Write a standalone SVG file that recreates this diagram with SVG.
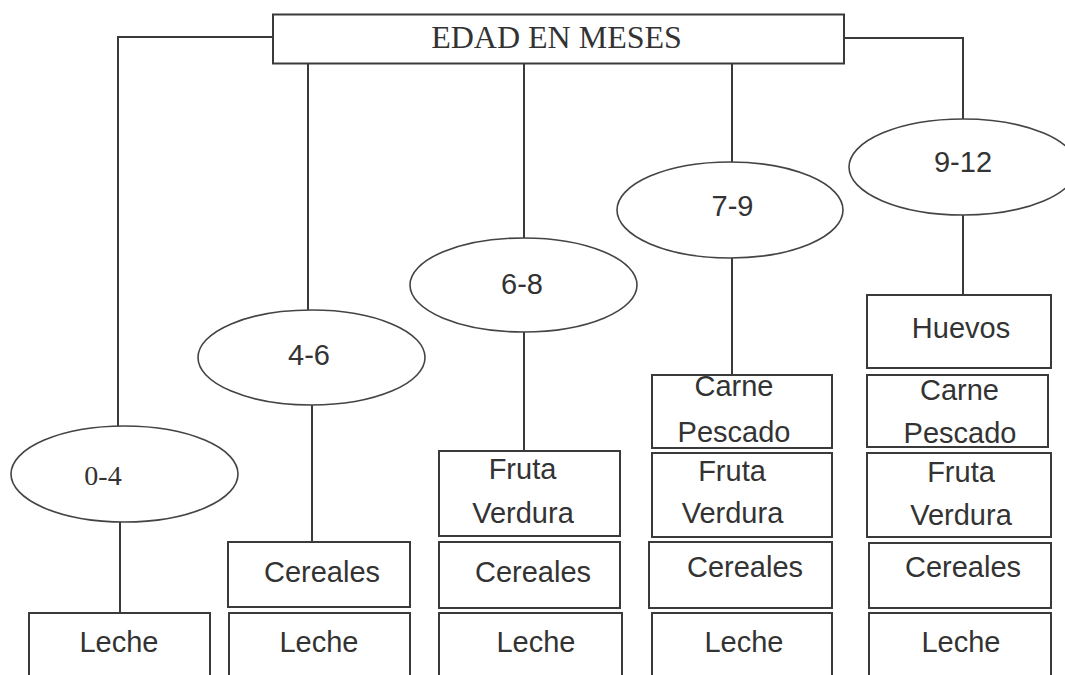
<svg xmlns="http://www.w3.org/2000/svg" width="1065" height="675" viewBox="0 0 1065 675">
<style>
.box{fill:#fff;stroke:#3a3a3a;stroke-width:2}
.ell{fill:#fff;stroke:#444;stroke-width:1.6}
.ln{fill:none;stroke:#3a3a3a;stroke-width:2}
.s{font-family:"Liberation Sans",Arial,sans-serif;font-size:29px;fill:#333;text-anchor:middle}
.r{font-family:"Liberation Serif","Times New Roman",serif;fill:#333;text-anchor:middle}
</style>
<rect width="1065" height="675" fill="#fff"/>
<g id="connectors">
<polyline class="ln" points="273,37 118,37 118,426"/>
<line class="ln" x1="308" y1="61" x2="308" y2="310"/>
<line class="ln" x1="524" y1="63" x2="524" y2="238"/>
<line class="ln" x1="732" y1="63" x2="732" y2="162"/>
<polyline class="ln" points="844,38 963,38 963,119"/>
<line class="ln" x1="120" y1="522" x2="120" y2="613"/>
<line class="ln" x1="312" y1="405" x2="312" y2="542"/>
<line class="ln" x1="524" y1="332" x2="524" y2="451"/>
<line class="ln" x1="732" y1="258" x2="732" y2="375"/>
<line class="ln" x1="963" y1="215" x2="963" y2="295"/>
</g>
<g id="root">
<rect class="box" x="273" y="14.5" width="571" height="49"/>
<text class="r" x="556.5" y="48" font-size="32">EDAD EN MESES</text>
</g>
<g id="age-0-4">
<ellipse class="ell" cx="124.5" cy="474" rx="113.5" ry="48"/>
<text class="r" x="103" y="485" font-size="28">0-4</text>
</g>
<g id="age-4-6">
<ellipse class="ell" cx="311.5" cy="357.5" rx="113.5" ry="47.5"/>
<text class="s" x="309" y="365">4-6</text>
</g>
<g id="age-6-8">
<ellipse class="ell" cx="523.5" cy="285" rx="113.5" ry="47"/>
<text class="s" x="522" y="294">6-8</text>
</g>
<g id="age-7-9">
<ellipse class="ell" cx="730" cy="210" rx="113" ry="48"/>
<text class="s" x="732.5" y="216">7-9</text>
</g>
<g id="age-9-12">
<ellipse class="ell" cx="963" cy="167" rx="114" ry="48"/>
<text class="s" x="963" y="172">9-12</text>
</g>
<g id="c1-leche">
<rect class="box" x="29" y="613" width="181" height="75"/>
<text class="s" x="119" y="652">Leche</text>
</g>
<g id="c2-cereales">
<rect class="box" x="228" y="542" width="182" height="65"/>
<text class="s" x="322" y="582">Cereales</text>
</g>
<g id="c2-leche">
<rect class="box" x="229" y="613" width="181" height="75"/>
<text class="s" x="319" y="652">Leche</text>
</g>
<g id="c3-fruta">
<rect class="box" x="439" y="451" width="181" height="85"/>
<text class="s" x="522.5" y="479">Fruta</text>
<text class="s" x="523" y="523">Verdura</text>
</g>
<g id="c3-cereales">
<rect class="box" x="439" y="542" width="181" height="66"/>
<text class="s" x="533" y="582">Cereales</text>
</g>
<g id="c3-leche">
<rect class="box" x="439" y="613" width="183" height="75"/>
<text class="s" x="536" y="652">Leche</text>
</g>
<g id="c4-carne">
<rect class="box" x="652" y="375" width="180" height="73"/>
<text class="s" x="734" y="396">Carne</text>
<text class="s" x="734" y="442">Pescado</text>
</g>
<g id="c4-fruta">
<rect class="box" x="652" y="453" width="180" height="84"/>
<text class="s" x="732" y="481">Fruta</text>
<text class="s" x="732.5" y="523">Verdura</text>
</g>
<g id="c4-cereales">
<rect class="box" x="649" y="542" width="183" height="66"/>
<text class="s" x="745" y="577">Cereales</text>
</g>
<g id="c4-leche">
<rect class="box" x="652" y="613" width="180" height="75"/>
<text class="s" x="744" y="652">Leche</text>
</g>
<g id="c5-huevos">
<rect class="box" x="867" y="295" width="184" height="73"/>
<text class="s" x="961" y="338">Huevos</text>
</g>
<g id="c5-carne">
<rect class="box" x="867" y="375" width="181" height="72"/>
<text class="s" x="959.5" y="400">Carne</text>
<text class="s" x="960" y="443">Pescado</text>
</g>
<g id="c5-fruta">
<rect class="box" x="867" y="453" width="184" height="84"/>
<text class="s" x="961" y="482">Fruta</text>
<text class="s" x="961" y="525">Verdura</text>
</g>
<g id="c5-cereales">
<rect class="box" x="869" y="543" width="182" height="65"/>
<text class="s" x="963" y="577">Cereales</text>
</g>
<g id="c5-leche">
<rect class="box" x="869" y="613" width="182" height="75"/>
<text class="s" x="961" y="652">Leche</text>
</g>
</svg>
